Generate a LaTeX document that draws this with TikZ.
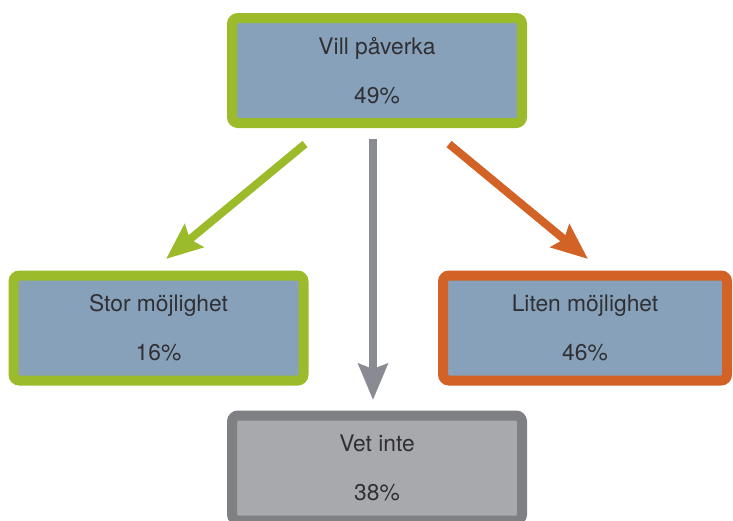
\documentclass[tikz,border=0pt]{standalone}
\usepackage{fontspec}
\setmainfont{TeX Gyre Heros}
\usetikzlibrary{arrows.meta}
\definecolor{cgreen}{HTML}{9BBB2A}
\definecolor{corange}{HTML}{D26225}
\definecolor{cgrayb}{HTML}{7F8084}
\definecolor{cgrayf}{HTML}{A8A9AD}
\definecolor{cblue}{HTML}{87A1BA}
\definecolor{carrowg}{HTML}{8A8A92}
\definecolor{ctext}{HTML}{303034}
\tikzset{
  box/.style={rectangle, rounded corners=6pt, line width=10pt,
    minimum width=290pt, minimum height=105pt, inner sep=0pt,
    align=center, text=ctext,
    font=\fontsize{22.8}{49}\selectfont},
  bluebox/.style={box, fill=cblue},
  arr/.style={line width=8pt, -{Stealth[length=36pt, width=29pt, inset=5pt]}},
}
\begin{document}
\begin{tikzpicture}[x=1pt, y=-1pt]
  \useasboundingbox (0,0) rectangle (733,520);
  \clip (0,0) rectangle (733,520);
  \fill[white] (0,0) rectangle (733,520);
  \node[bluebox, draw=cgreen] (top) at (377,70.5) {Vill påverka\\49\%};
  \node[bluebox, draw=cgreen] (stor) at (158.5,328) {Stor möjlighet\\16\%};
  \node[bluebox, draw=corange, minimum width=284pt] (liten) at (585,328) {Liten möjlighet\\46\%};
  \node[box, draw=cgrayb, fill=cgrayf] (vet) at (377,468) {Vet inte\\38\%};
  \coordinate (gs) at (305,144);
  \coordinate (ge) at (166,259);
  \coordinate (ms) at (373,139);
  \coordinate (me) at (373,400);
  \coordinate (os) at (449,144);
  \coordinate (oe) at (588,259);
  \draw[arr, cgreen] (gs) -- (ge);
  \draw[arr, carrowg] (ms) -- (me);
  \draw[arr, corange] (os) -- (oe);
\end{tikzpicture}
\end{document}
